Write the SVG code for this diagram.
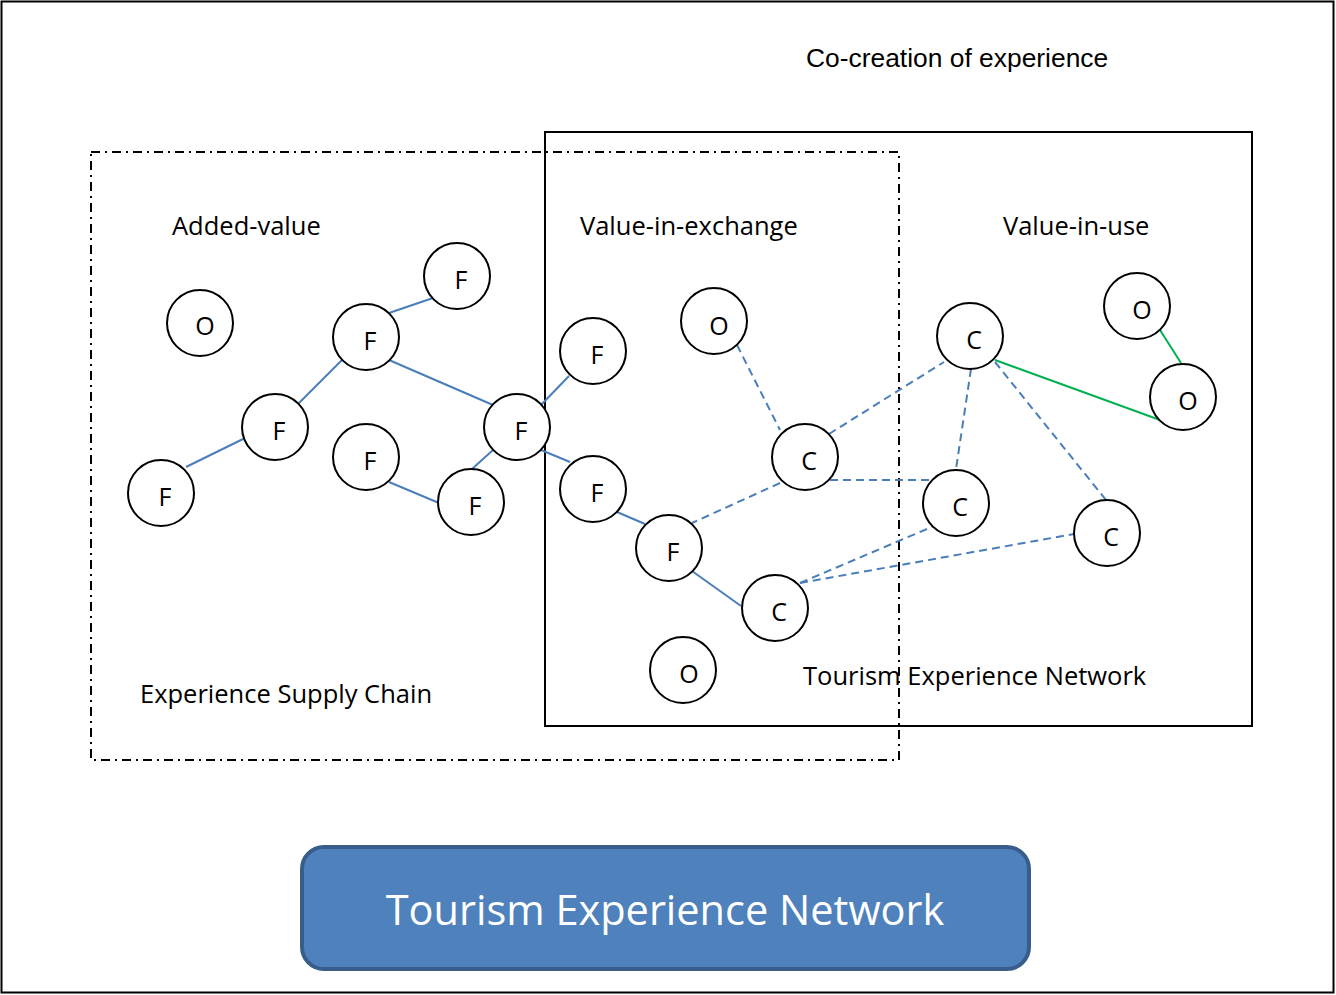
<svg xmlns="http://www.w3.org/2000/svg" width="1336" height="995" viewBox="0 0 1336 995">
  <style>
    .frame { fill: none; stroke: #000; stroke-width: 2; }
    .chain { fill: none; stroke: #000; stroke-width: 2; stroke-dasharray: 9 5 2 5; }
    .node circle { fill: #fff; stroke: #000; stroke-width: 2; }
    .node text { font-family: "Open Sans", "Liberation Sans", sans-serif; font-size: 25px; fill: #000; text-anchor: middle; }
    .lbl { font-family: "Open Sans", "Liberation Sans", sans-serif; font-size: 25.5px; fill: #000; }
    .arial { font-family: "Liberation Sans", Arial, sans-serif; font-size: 26.4px; fill: #000; }
    .solid { stroke: #4a7ebb; stroke-width: 2; fill: none; }
    .dash { stroke: #4a7ebb; stroke-width: 2; fill: none; stroke-dasharray: 8 5; }
    .green { stroke: #00b050; stroke-width: 2; fill: none; }
  </style>

  <rect x="0" y="0" width="1336" height="995" fill="#fff"/>
  <rect class="frame" x="1.5" y="1.5" width="1332" height="991"/>

  <!-- regions -->
  <rect class="frame" x="545" y="132" width="707" height="594"/>
  <rect class="chain" x="91" y="152" width="808" height="608"/>

  <!-- labels -->
  <text class="arial" x="806" y="67">Co-creation of experience</text>
  <text class="lbl" x="172" y="235">Added-value</text>
  <text class="lbl" x="580" y="235">Value-in-exchange</text>
  <text class="lbl" x="1003" y="235">Value-in-use</text>
  <text class="lbl" x="140" y="703">Experience Supply Chain</text>
  <text class="lbl" x="803" y="685">Tourism Experience Network</text>

  <!-- connectors -->
  <g id="connectors">
    <line class="solid" x1="389" y1="313" x2="433" y2="298"/>
    <line class="solid" x1="342" y1="360" x2="298" y2="404"/>
    <line class="solid" x1="243" y1="439" x2="186" y2="467"/>
    <line class="solid" x1="389" y1="360" x2="493" y2="405"/>
    <line class="solid" x1="389" y1="482" x2="439" y2="503"/>
    <line class="solid" x1="472" y1="469" x2="493" y2="450"/>
    <line class="solid" x1="541" y1="405" x2="569" y2="376"/>
    <line class="solid" x1="541" y1="450" x2="570" y2="462"/>
    <line class="solid" x1="617" y1="512" x2="645" y2="524"/>
    <line class="solid" x1="692" y1="571" x2="741" y2="606"/>

    <line class="dash" x1="737" y1="345" x2="780" y2="430"/>
    <line class="dash" x1="829" y1="434" x2="944" y2="362"/>
    <line class="dash" x1="830" y1="480" x2="934" y2="480"/>
    <line class="dash" x1="780" y1="483" x2="692" y2="523"/>
    <line class="dash" x1="971" y1="369" x2="956" y2="469"/>
    <line class="dash" x1="995" y1="362" x2="1106" y2="500"/>
    <line class="dash" x1="800" y1="583" x2="934" y2="526"/>
    <line class="dash" x1="800" y1="583" x2="1074" y2="534"/>

    <line class="green" x1="995" y1="360" x2="1160" y2="420"/>
    <line class="green" x1="1160" y1="330" x2="1181" y2="363"/>
  </g>

  <!-- nodes -->
  <g id="o1" class="node"><circle cx="200" cy="323" r="33"/><text x="205" y="335">O</text></g>
  <g id="f1" class="node"><circle cx="457" cy="276" r="33"/><text x="461" y="289">F</text></g>
  <g id="f2" class="node"><circle cx="366" cy="337" r="33"/><text x="370" y="350">F</text></g>
  <g id="f3" class="node"><circle cx="275" cy="427" r="33"/><text x="279" y="440">F</text></g>
  <g id="f4" class="node"><circle cx="161" cy="493" r="33"/><text x="165" y="506">F</text></g>
  <g id="f5" class="node"><circle cx="366" cy="457" r="33"/><text x="370" y="470">F</text></g>
  <g id="f6" class="node"><circle cx="471" cy="502" r="33"/><text x="475" y="515">F</text></g>
  <g id="f7" class="node"><circle cx="517" cy="427" r="33"/><text x="521" y="440">F</text></g>
  <g id="f8" class="node"><circle cx="593" cy="351" r="33"/><text x="597" y="364">F</text></g>
  <g id="f9" class="node"><circle cx="593" cy="489" r="33"/><text x="597" y="502">F</text></g>
  <g id="f10" class="node"><circle cx="669" cy="548" r="33"/><text x="673" y="561">F</text></g>
  <g id="o2" class="node"><circle cx="714" cy="321" r="33"/><text x="719" y="335">O</text></g>
  <g id="c1" class="node"><circle cx="805" cy="457" r="33"/><text x="809" y="470">C</text></g>
  <g id="c2" class="node"><circle cx="775" cy="608" r="33"/><text x="779" y="621">C</text></g>
  <g id="o3" class="node"><circle cx="683" cy="670" r="33"/><text x="689" y="683">O</text></g>
  <g id="c3" class="node"><circle cx="970" cy="336" r="33"/><text x="974" y="349">C</text></g>
  <g id="c4" class="node"><circle cx="956" cy="503" r="33"/><text x="960" y="516">C</text></g>
  <g id="c5" class="node"><circle cx="1107" cy="533" r="33"/><text x="1111" y="546">C</text></g>
  <g id="o4" class="node"><circle cx="1137" cy="306" r="33"/><text x="1142" y="319">O</text></g>
  <g id="o5" class="node"><circle cx="1183" cy="397" r="33"/><text x="1188" y="410">O</text></g>

  <!-- title button -->
  <g id="title">
    <rect x="302" y="847" width="727" height="122" rx="22" ry="22" fill="#4f81bd" stroke="#385d8a" stroke-width="4"/>
    <text x="665" y="925" font-family="Open Sans, Liberation Sans, sans-serif" font-size="41.5" fill="#fff" text-anchor="middle">Tourism Experience Network</text>
  </g>
</svg>
